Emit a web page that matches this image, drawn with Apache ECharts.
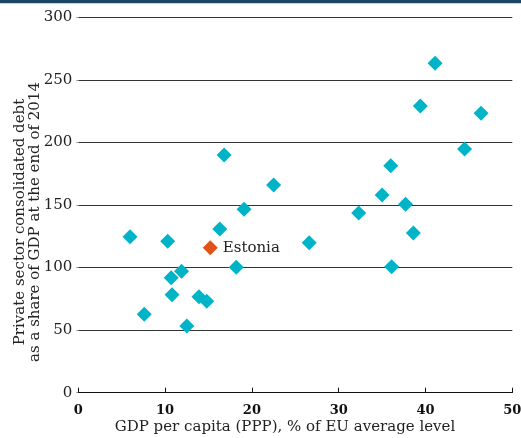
<!DOCTYPE html>
<html><head><meta charset="utf-8">
<script src="https://cdn.jsdelivr.net/npm/echarts@6/dist/echarts.min.js"></script>
<style>html,body{margin:0;padding:0;background:#fff}#c{width:521px;height:438px}</style>
</head><body><div id="c"></div>
<script>
const gdpX = [5.96,10.3,7.6,10.7,11.9,10.8,12.5,13.9,14.8,16.3,16.8,19.1,18.2,22.5,26.6,32.3,35.0,36.0,37.7,36.1,38.6,39.4,41.1,44.5,46.4];
const debtY = [124.7,121.0,62.7,91.9,97.0,78.3,53.3,76.7,73.0,130.8,190.0,146.6,100.2,166.0,119.9,143.6,158.0,181.4,150.6,100.7,127.6,229.1,263.2,194.8,223.3];
const estoniaName = 'Estonia';
const estoniaX = 15.2;
const estoniaY = 115.9;
const xTicks = [0,10,20,30,40,50];
const yTicks = [0,50,100,150,200,250,300];
const xTitle = 'GDP per capita (PPP), % of EU average level';
const yTitle = 'Private sector consolidated debt\nas a share of GDP at the end of 2014';

const font = '"DejaVu Serif", "Liberation Serif", serif';
const chart = echarts.init(document.getElementById('c'));
chart.setOption({
  animation: false,
  graphic: [
    {type:'rect', shape:{x:0,y:0,width:521,height:3.3}, style:{fill:'#1b4564'}},
    {type:'text', x:285, y:427, style:{text:xTitle, font:'15px ' + font, fill:'#222', align:'center', verticalAlign:'middle'}},
    {type:'text', x:27.5, y:222, rotation:Math.PI/2, style:{text:yTitle, font:'15px ' + font, lineHeight:15, fill:'#222', align:'center', verticalAlign:'middle'}}
  ],
  grid: {left: 78.3, right: 8.7, top: 17.3, bottom: 45.3, containLabel:false, outerBoundsMode:'none'},
  xAxis: {
    type:'value', min: xTicks[0], max: xTicks[xTicks.length-1], interval: 10,
    axisLine:{show:true, lineStyle:{color:'#111', width:1.2}},
    axisTick:{show:true, inside:true, length:5, lineStyle:{color:'#111'}},
    splitLine:{show:false},
    axisLabel:{color:'#111', fontFamily:font, fontSize:13, fontWeight:'bold', margin:11}
  },
  yAxis: {
    type:'value', min: yTicks[0], max: yTicks[yTicks.length-1], interval: 50,
    axisLine:{show:false},
    axisTick:{show:true, length:2, lineStyle:{color:'#999'}},
    splitLine:{show:true, lineStyle:{color:'#333', width:1}},
    axisLabel:{color:'#222', fontFamily:font, fontSize:15, margin:6}
  },
  series: [
    {type:'scatter', symbol:'diamond', symbolSize:15,
     itemStyle:{color:'#00b4c8', opacity:1},
     data: gdpX.map((x,i)=>[x, debtY[i]])},
    {type:'scatter', symbol:'diamond', symbolSize:15,
     itemStyle:{color:'#e05216', opacity:1},
     label:{show:true, position:'right', distance:5, formatter: estoniaName,
            color:'#222', fontFamily:font, fontSize:15},
     data:[[estoniaX, estoniaY]]}
  ]
});
</script></body></html>
